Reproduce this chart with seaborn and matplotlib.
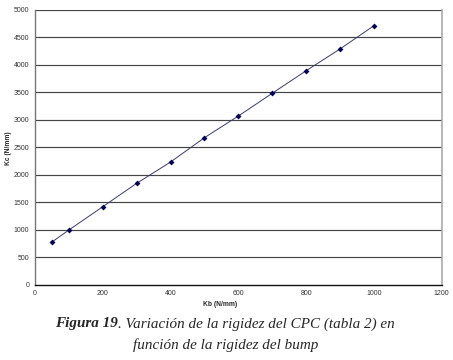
import matplotlib
matplotlib.use("Agg")
import matplotlib.pyplot as plt
import seaborn as sns
import pandas as pd

kb = [50, 100, 200, 300, 400, 500, 600, 700, 800, 900, 1000]
kc = [774, 993, 1417, 1843, 2231, 2674, 3069, 3483, 3894, 4290, 4714]
x_ticks = [0, 200, 400, 600, 800, 1000, 1200]
y_ticks = [0, 500, 1000, 1500, 2000, 2500, 3000, 3500, 4000, 4500, 5000]
x_label = "Kb (N/mm)"
y_label = "Kc (N/mm)"
caption_bold = "Figura 19"
caption_rest1 = ". Variación de la rigidez del CPC (tabla 2) en"
caption_line2 = "función de la rigidez del bump"

sns.set_theme(style="white")
plt.rcParams['font.family'] = ['Liberation Sans', 'DejaVu Sans']

df = pd.DataFrame({"kb": kb, "kc": kc})

fig = plt.figure(figsize=(4.53, 3.6), dpi=100)
ax = fig.add_axes([35/453, 1 - 284.5/360, (441.7-35)/453, (284.5-10)/360])

for yv in y_ticks[1:]:
    ax.axhline(yv, color="#444444", lw=0.85, zorder=0)

sns.lineplot(data=df, x="kb", y="kc", ax=ax, color="#3a3a6e", lw=0.7,
             marker="D", markersize=3, markeredgewidth=0, markerfacecolor="#000055")

ax.set_xlim(0, 1200)
ax.set_ylim(0, 5000)
ax.set_xticks(x_ticks)
ax.set_yticks(y_ticks)
ax.tick_params(axis="both", labelsize=5, colors="#333333", length=2, width=0.6, pad=2)
ax.tick_params(axis="x", length=0, pad=4)
ax.spines["top"].set_visible(False)
ax.spines["left"].set_color("#777777")
ax.spines["left"].set_linewidth(1.0)
ax.spines["bottom"].set_color("#111111")
ax.spines["bottom"].set_linewidth(1.0)
ax.spines["right"].set_color("#aaaaaa")
ax.spines["right"].set_linewidth(1.2)

ax.set_xlabel("")
ax.set_ylabel("")
fig.text(220/453, 1 - 305/360, x_label, ha="center", va="center", fontsize=4.8, fontweight="bold")
fig.text(8/453, 1 - 148/360, y_label, ha="center", va="center", fontsize=4.8, fontweight="bold", rotation=90)

serif = ['Liberation Serif', 'DejaVu Serif']
fs = 10.9
t1 = fig.text(55/453, 1 - 324/360, caption_bold, ha="left", va="center", fontsize=fs,
              family=serif, style="italic", fontweight="bold")
fig.canvas.draw()
r = fig.canvas.get_renderer()
bb = t1.get_window_extent(renderer=r)
x2 = bb.x1 / fig.bbox.width
fig.text(x2, 1 - 324/360, caption_rest1, ha="left", va="center", fontsize=fs,
         family=serif, style="italic")
fig.text(226/453, 1 - 345/360, caption_line2, ha="center", va="center", fontsize=fs,
         family=serif, style="italic")

fig.savefig("out.png", dpi=100)
